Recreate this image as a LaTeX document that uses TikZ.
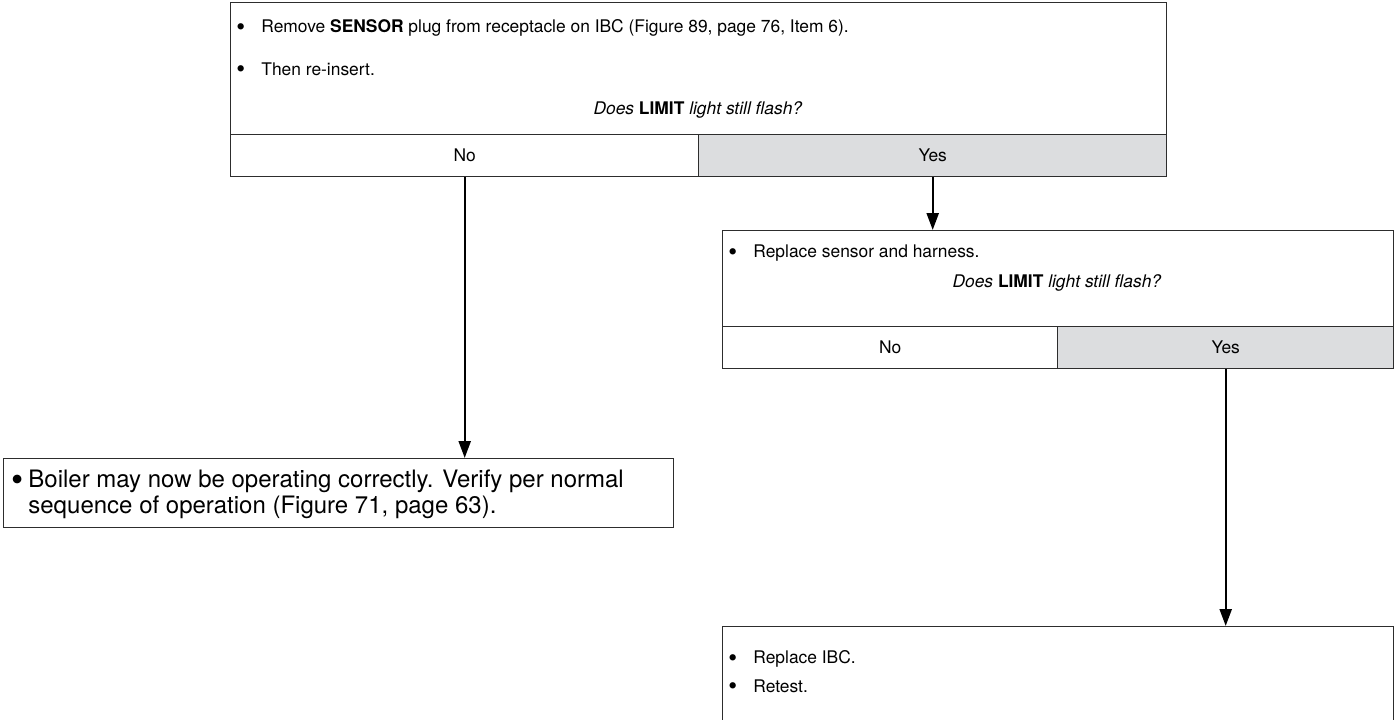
\documentclass[tikz,border=0pt]{standalone}
\usepackage{fontspec}
\setmainfont{TeX Gyre Heros}
\usetikzlibrary{arrows.meta}

\definecolor{celdagris}{RGB}{220,221,223}
\definecolor{borde}{RGB}{45,45,45}
\newcommand{\vineta}[1]{\makebox[#1][l]{\raisebox{-0.15em}{\scalebox{1.45}{\textbullet}}}}

\begin{document}
\begin{tikzpicture}[x=0.5pt,y=-0.5pt,
    caja/.style={draw=borde,line width=0.7pt,anchor=north west,inner sep=0pt},
    celda/.style={caja,minimum height=21pt,font=\fontsize{8.7}{10}\selectfont},
    texto/.style={anchor=west,inner sep=0pt,font=\fontsize{8.7}{10}\selectfont},
    flecha/.style={line width=1.2pt,-{Triangle[width=6pt,length=8.5pt]}}]

    \clip (0,0) rectangle (1394,719);

    % Primera prueba
    \node[caja,minimum width=468pt,minimum height=66pt] (enchufe) at (230,2) {};
    \node[celda,minimum width=234pt] (no1) at (230,134) {No};
    \node[celda,fill=celdagris,minimum width=234pt] (si1) at (698,134) {Yes};
    \node[texto] (paso11) at (236,28)
        {\vineta{12.5pt}Remove \textbf{SENSOR} plug from receptacle on IBC (Figure 89, page 76, Item 6).};
    \node[texto] (paso12) at (236,70)
        {\vineta{12.5pt}Then re-insert.};
    \node[texto,anchor=center] (preg1) at (698,110)
        {\textit{Does} \textbf{LIMIT} \textit{light still flash?}};

    % Segunda prueba
    \node[caja,minimum width=335.5pt,minimum height=48pt] (sensor) at (722,230) {};
    \node[celda,minimum width=167.5pt] (no2) at (722,326) {No};
    \node[celda,fill=celdagris,minimum width=168pt] (si2) at (1057,326) {Yes};
    \node[texto] (paso21) at (728,253)
        {\vineta{12.5pt}Replace sensor and harness.};
    \node[texto,anchor=center] (preg2) at (1057,283)
        {\textit{Does} \textbf{LIMIT} \textit{light still flash?}};

    % Resultados
    \node[caja,minimum width=335pt,minimum height=34.5pt] (caldera) at (3,458) {};
    \node[texto,anchor=north west,align=left,font=\fontsize{12}{12.6}\selectfont] (paso31) at (11,470)
        {\vineta{8.5pt}Boiler may now be operating correctly. Verify per normal\\
         \hspace*{8.5pt}sequence of operation (Figure 71, page 63).};

    \node[caja,minimum width=335.5pt,minimum height=60pt] (ibc) at (722,626) {};
    \node[texto] (paso41) at (728,659)
        {\vineta{12.5pt}Replace IBC.};
    \node[texto] (paso42) at (728,687)
        {\vineta{12.5pt}Retest.};

    % Flechas
    \draw[flecha] (no1.south) -- (no1.south |- caldera.north);
    \draw[flecha] (si1.south) -- (si1.south |- sensor.north);
    \draw[flecha] (si2.south) -- (si2.south |- ibc.north);

\end{tikzpicture}
\end{document}
